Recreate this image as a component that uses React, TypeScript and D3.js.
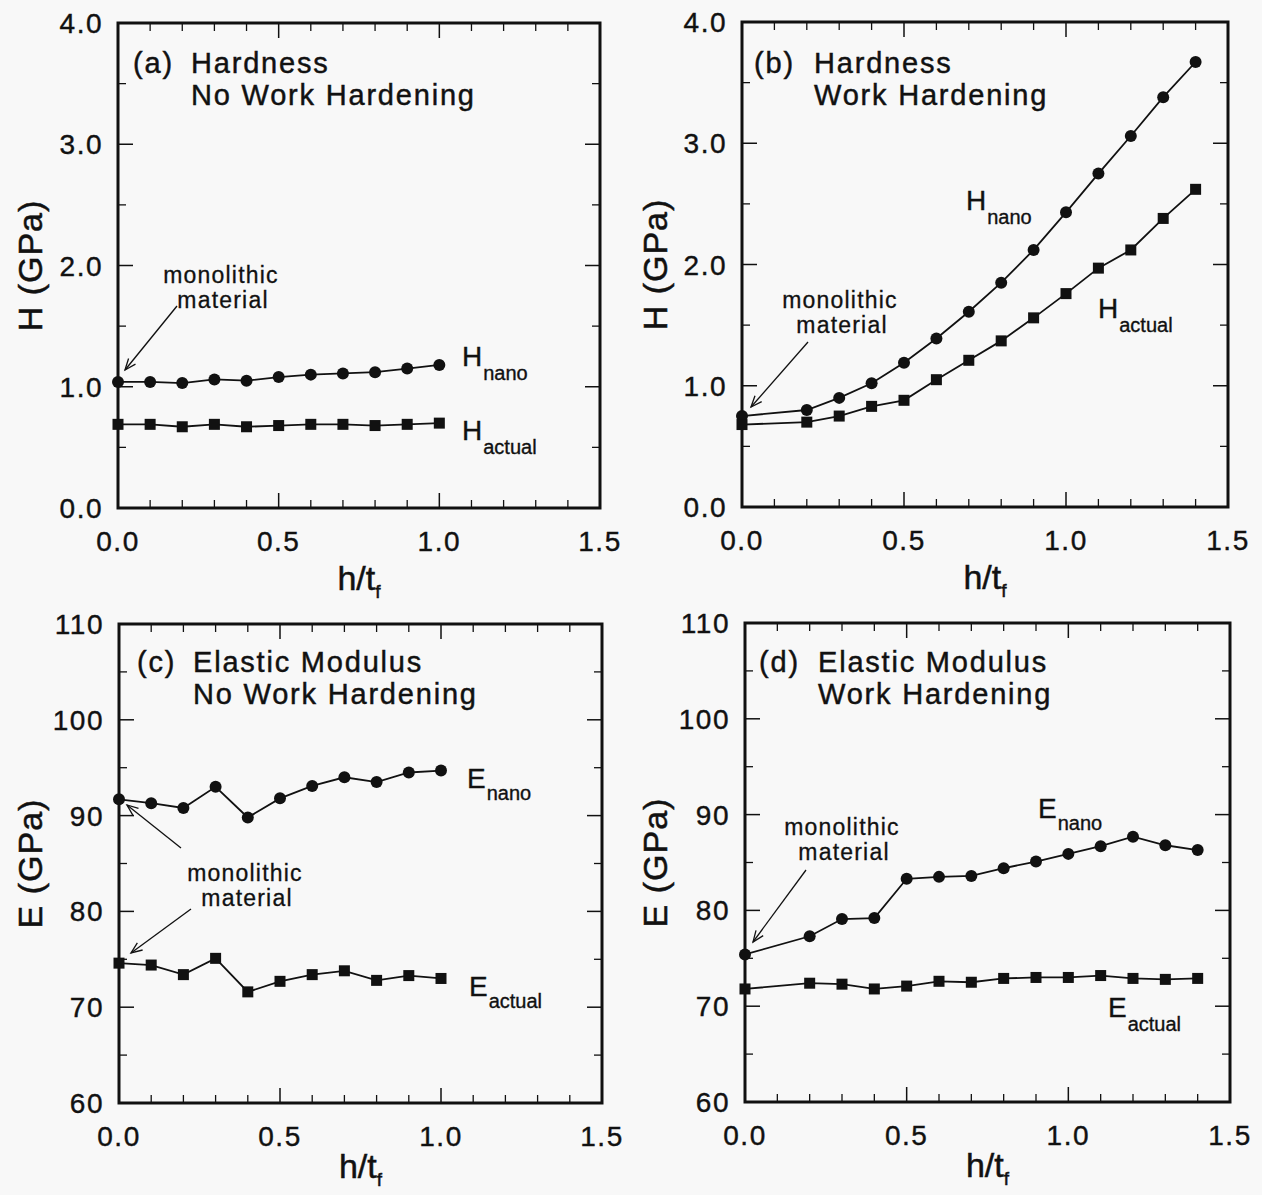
import React from "react";
import * as d3 from "d3";

// ---------- data ----------
const xA = [0, 0.1, 0.2, 0.3, 0.4, 0.5, 0.6, 0.7, 0.8, 0.9, 1.0];
const hA_nano = [1.04, 1.04, 1.03, 1.06, 1.05, 1.08, 1.1, 1.11, 1.12, 1.15, 1.18];
const hA_actual = [0.69, 0.69, 0.67, 0.69, 0.67, 0.68, 0.69, 0.69, 0.68, 0.69, 0.7];

const xB = [0, 0.2, 0.3, 0.4, 0.5, 0.6, 0.7, 0.8, 0.9, 1.0, 1.1, 1.2, 1.3, 1.4];
const hB_nano = [0.75, 0.8, 0.9, 1.02, 1.19, 1.39, 1.61, 1.85, 2.12, 2.43, 2.75, 3.06, 3.38, 3.67];
const hB_actual = [0.68, 0.7, 0.75, 0.83, 0.88, 1.05, 1.21, 1.37, 1.56, 1.76, 1.97, 2.12, 2.38, 2.62];

const xC = [0, 0.1, 0.2, 0.3, 0.4, 0.5, 0.6, 0.7, 0.8, 0.9, 1.0];
const eC_nano = [91.7, 91.3, 90.8, 93.0, 89.8, 91.8, 93.1, 94.0, 93.5, 94.5, 94.7];
const eC_actual = [74.6, 74.4, 73.4, 75.1, 71.6, 72.7, 73.4, 73.8, 72.8, 73.3, 73.0];

const xD = [0, 0.2, 0.3, 0.4, 0.5, 0.6, 0.7, 0.8, 0.9, 1.0, 1.1, 1.2, 1.3, 1.4];
const eD_nano = [75.4, 77.3, 79.1, 79.2, 83.3, 83.5, 83.6, 84.4, 85.1, 85.9, 86.7, 87.7, 86.8, 86.3];
const eD_actual = [71.8, 72.4, 72.3, 71.8, 72.1, 72.6, 72.5, 72.9, 73.0, 73.0, 73.2, 72.9, 72.8, 72.9];

const xMajor = [0, 0.5, 1.0, 1.5];
const xTickLabels = ["0.0", "0.5", "1.0", "1.5"];
const hMajor = [0, 1, 2, 3, 4];
const hTickLabels = ["0.0", "1.0", "2.0", "3.0", "4.0"];
const eMajor = [60, 70, 80, 90, 100, 110];
const eTickLabels = ["60", "70", "80", "90", "100", "110"];

const FONT = "'Liberation Sans', Arial, Helvetica, sans-serif";
const INK = "#111";

type Series = { xs: number[]; ys: number[]; marker: "circle" | "square" };

function Panel(props: {
  left: number; top: number; right: number; bottom: number;
  yDomain: [number, number]; yMajor: number[]; yLabels: string[]; yStep: number;
  yTitle: string; titleX: number; xTitleOff: number; series: Series[];
}) {
  const { left, top, right, bottom, yDomain, yMajor, yLabels, yStep, yTitle, titleX, xTitleOff, series } = props;
  const x = d3.scaleLinear().domain([0, 1.5]).range([left, right]);
  const y = d3.scaleLinear().domain(yDomain).range([bottom, top]);
  const line = d3.line<[number, number]>().x((d) => x(d[0])).y((d) => y(d[1]));
  const xMinor = d3.range(0, 16).map((i) => i / 10).filter((v) => !xMajor.some((m) => Math.abs(m - v) < 1e-6));
  const yMinor = yMajor.slice(0, -1).map((v) => v + yStep / 2);
  const MAJ = 15, MIN = 8;
  const cx = (left + right) / 2;
  const cy = (top + bottom) / 2;
  return (
    <g>
      {xMajor.map((v, i) => (
        <g key={"xm" + i}>
          <line x1={x(v)} x2={x(v)} y1={bottom} y2={bottom - MAJ} stroke={INK} strokeWidth={1.5} />
          <line x1={x(v)} x2={x(v)} y1={top} y2={top + MAJ} stroke={INK} strokeWidth={1.5} />
          <text x={x(v)} y={bottom + 43} textAnchor="middle" fontSize={28} letterSpacing={1.5} fill={INK} stroke={INK} strokeWidth={0.4}>{xTickLabels[i]}</text>
        </g>
      ))}
      {xMinor.map((v, i) => (
        <g key={"xn" + i}>
          <line x1={x(v)} x2={x(v)} y1={bottom} y2={bottom - MIN} stroke={INK} strokeWidth={1.3} />
          <line x1={x(v)} x2={x(v)} y1={top} y2={top + MIN} stroke={INK} strokeWidth={1.3} />
        </g>
      ))}
      {yMajor.map((v, i) => (
        <g key={"ym" + i}>
          <line x1={left} x2={left + MAJ} y1={y(v)} y2={y(v)} stroke={INK} strokeWidth={1.5} />
          <line x1={right} x2={right - MAJ} y1={y(v)} y2={y(v)} stroke={INK} strokeWidth={1.5} />
          <text x={left - 15} y={y(v) + 10} textAnchor="end" fontSize={28} letterSpacing={1.5} fill={INK} stroke={INK} strokeWidth={0.4}>{yLabels[i]}</text>
        </g>
      ))}
      {yMinor.map((v, i) => (
        <g key={"yn" + i}>
          <line x1={left} x2={left + MIN} y1={y(v)} y2={y(v)} stroke={INK} strokeWidth={1.3} />
          <line x1={right} x2={right - MIN} y1={y(v)} y2={y(v)} stroke={INK} strokeWidth={1.3} />
        </g>
      ))}
      <rect x={left} y={top} width={right - left} height={bottom - top} fill="none" stroke={INK} strokeWidth={3} />
      <text transform={`translate(${titleX},${cy}) rotate(-90)`} textAnchor="middle" fontSize={34} letterSpacing={1} fill={INK} stroke={INK} strokeWidth={0.5}>{yTitle}</text>
      <text x={cx} y={bottom + xTitleOff} textAnchor="middle" fontSize={34} fill={INK} stroke={INK} strokeWidth={0.5}>
        h/t<tspan dy={8} fontSize={19}>f</tspan>
      </text>
      {series.map((s, si) => {
        const pts = s.xs.map((xv, i) => [xv, s.ys[i]] as [number, number]);
        return (
          <g key={"s" + si}>
            <path d={line(pts) || ""} fill="none" stroke={INK} strokeWidth={1.8} />
            {pts.map((p, i) =>
              s.marker === "circle" ? (
                <circle key={i} cx={x(p[0])} cy={y(p[1])} r={6} fill={INK} />
              ) : (
                <rect key={i} x={x(p[0]) - 5.5} y={y(p[1]) - 5.5} width={11} height={11} fill={INK} />
              )
            )}
          </g>
        );
      })}
    </g>
  );
}

function Arrow({ x1, y1, x2, y2 }: { x1: number; y1: number; x2: number; y2: number }) {
  const ang = Math.atan2(y2 - y1, x2 - x1);
  const L = 12, w = 0.38;
  const a1 = [x2 - L * Math.cos(ang - w), y2 - L * Math.sin(ang - w)];
  const a2 = [x2 - L * Math.cos(ang + w), y2 - L * Math.sin(ang + w)];
  return (
    <g stroke={INK} strokeWidth={1.3} fill="none">
      <line x1={x1} y1={y1} x2={x2} y2={y2} />
      <path d={`M${a1[0]},${a1[1]} L${x2},${y2} L${a2[0]},${a2[1]}`} />
    </g>
  );
}

function Title({ x, tagX, y, tag, l1, l2 }: { x: number; tagX: number; y: number; tag: string; l1: string; l2: string }) {
  return (
    <g fontSize={29} letterSpacing={1.8} fill={INK} stroke={INK} strokeWidth={0.45}>
      <text x={tagX} y={y}>{tag}</text>
      <text x={x} y={y}>{l1}</text>
      <text x={x} y={y + 32}>{l2}</text>
    </g>
  );
}

function Mono({ cx, y }: { cx: number; y: number }) {
  return (
    <g fontSize={23} letterSpacing={1.2} fill={INK} stroke={INK} strokeWidth={0.3} textAnchor="middle">
      <text x={cx} y={y}>monolithic</text>
      <text x={cx + 2} y={y + 25}>material</text>
    </g>
  );
}

function Sub({ x, y, main, sub, dy }: { x: number; y: number; main: string; sub: string; dy: number }) {
  return (
    <text x={x} y={y} fontSize={28} fill={INK} stroke={INK} strokeWidth={0.35}>
      {main}
      <tspan dx={1} dy={dy} fontSize={20}>{sub}</tspan>
    </text>
  );
}

export default function App() {
  return (
    <svg width={1262} height={1195} style={{ position: "absolute", left: 0, top: 0, fontFamily: FONT }}>
      <rect width={1262} height={1195} fill="#f8f8f8" />
      {/* (a) */}
      <Panel left={118} top={23} right={600} bottom={508} yDomain={[0, 4]} yMajor={hMajor} yLabels={hTickLabels} yStep={1}
        yTitle="H (GPa)" titleX={42} xTitleOff={82}
        series={[{ xs: xA, ys: hA_nano, marker: "circle" }, { xs: xA, ys: hA_actual, marker: "square" }]} />
      <Title tagX={133} x={191} y={73} tag="(a)" l1="Hardness" l2="No Work Hardening" />
      <Mono cx={221} y={283} />
      <Arrow x1={177} y1={306} x2={125} y2={370} />
      <Sub x={462} y={366} main="H" sub="nano" dy={14} />
      <Sub x={462} y={440} main="H" sub="actual" dy={14} />

      {/* (b) */}
      <Panel left={742} top={22} right={1228} bottom={507} yDomain={[0, 4]} yMajor={hMajor} yLabels={hTickLabels} yStep={1}
        yTitle="H (GPa)" titleX={667} xTitleOff={82}
        series={[{ xs: xB, ys: hB_nano, marker: "circle" }, { xs: xB, ys: hB_actual, marker: "square" }]} />
      <Title tagX={754} x={814} y={73} tag="(b)" l1="Hardness" l2="Work Hardening" />
      <Mono cx={840} y={308} />
      <Arrow x1={808} y1={342} x2={751} y2={407} />
      <Sub x={966} y={210} main="H" sub="nano" dy={14} />
      <Sub x={1098} y={318} main="H" sub="actual" dy={14} />

      {/* (c) */}
      <Panel left={119} top={624} right={602} bottom={1103} yDomain={[60, 110]} yMajor={eMajor} yLabels={eTickLabels} yStep={10}
        yTitle="E (GPa)" titleX={42} xTitleOff={75}
        series={[{ xs: xC, ys: eC_nano, marker: "circle" }, { xs: xC, ys: eC_actual, marker: "square" }]} />
      <Title tagX={137} x={193} y={672} tag="(c)" l1="Elastic Modulus" l2="No Work Hardening" />
      <Mono cx={245} y={881} />
      <Arrow x1={181} y1={848} x2={127} y2={805} />
      <Arrow x1={191} y1={909} x2={131} y2={953} />
      <Sub x={467} y={788} main="E" sub="nano" dy={12} />
      <Sub x={469} y={996} main="E" sub="actual" dy={12} />

      {/* (d) */}
      <Panel left={745} top={623} right={1230} bottom={1102} yDomain={[60, 110]} yMajor={eMajor} yLabels={eTickLabels} yStep={10}
        yTitle="E (GPa)" titleX={667} xTitleOff={75}
        series={[{ xs: xD, ys: eD_nano, marker: "circle" }, { xs: xD, ys: eD_actual, marker: "square" }]} />
      <Title tagX={759} x={818} y={672} tag="(d)" l1="Elastic Modulus" l2="Work Hardening" />
      <Mono cx={842} y={835} />
      <Arrow x1={806} y1={870} x2={753} y2={942} />
      <Sub x={1038} y={818} main="E" sub="nano" dy={12} />
      <Sub x={1108} y={1017} main="E" sub="actual" dy={14} />
    </svg>
  );
}
